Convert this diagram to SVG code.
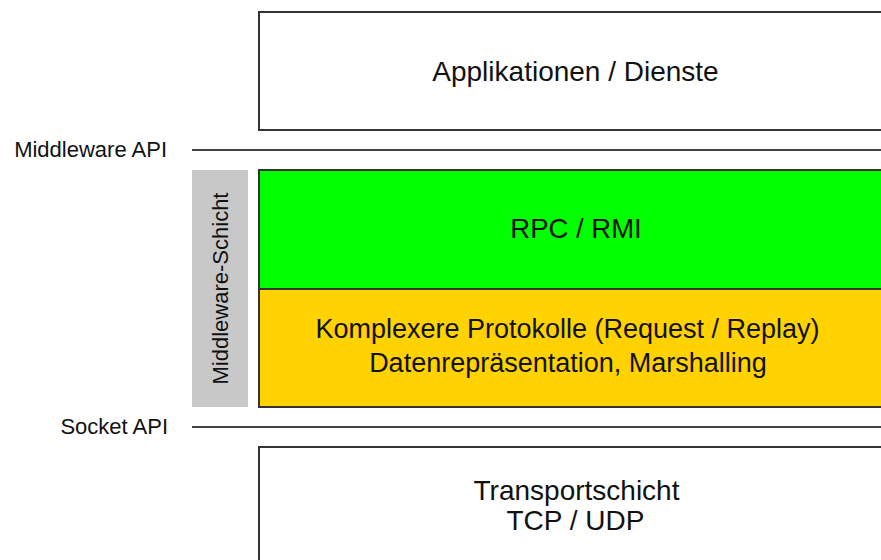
<svg xmlns="http://www.w3.org/2000/svg" width="881" height="560" viewBox="0 0 881 560">
<style>
text{font-family:"Liberation Sans",Arial,Helvetica,sans-serif;fill:#111}
.big{font-size:27px;text-anchor:middle}
.lbl{font-size:22px;text-anchor:end}
.box{stroke:#333;stroke-width:2}
.api{stroke:#444;stroke-width:2;fill:none}
</style>
<rect width="881" height="560" fill="#fff"/>
<g id="connectors">
<line class="api" x1="192" y1="150" x2="882" y2="150"/>
<line class="api" x1="192" y1="427" x2="882" y2="427"/>
</g>
<g id="label-middleware-api"><text class="lbl" x="167" y="157">Middleware API</text></g>
<g id="label-socket-api"><text class="lbl" x="168" y="434">Socket API</text></g>
<g id="applikationen">
<rect class="box" x="259" y="12" width="640" height="118" fill="#fff"/>
<text class="big" x="575.5" y="81" style="font-size:28px">Applikationen / Dienste</text>
</g>
<g id="middleware-schicht">
<rect x="192" y="170" width="56" height="237" fill="#c8c8c8"/>
<text transform="translate(228,288.5) rotate(-90)" style="font-size:22px;text-anchor:middle">Middleware-Schicht</text>
</g>
<g id="rpc">
<rect class="box" x="259" y="170" width="640" height="119" fill="#00ff00"/>
<text class="big" x="576" y="238" style="font-size:27.5px">RPC / RMI</text>
</g>
<g id="protokolle">
<rect class="box" x="259" y="289" width="640" height="118" fill="#ffd200"/>
<text class="big" x="567.5" y="338">Komplexere Protokolle (Request / Replay)</text>
<text class="big" x="568" y="372">Datenrepräsentation, Marshalling</text>
</g>
<g id="transport">
<rect class="box" x="259" y="447" width="640" height="130" fill="#fff"/>
<text class="big" x="576.5" y="500" style="font-size:28px">Transportschicht</text>
<text class="big" x="575.5" y="530" style="font-size:28px">TCP / UDP</text>
</g>
</svg>
